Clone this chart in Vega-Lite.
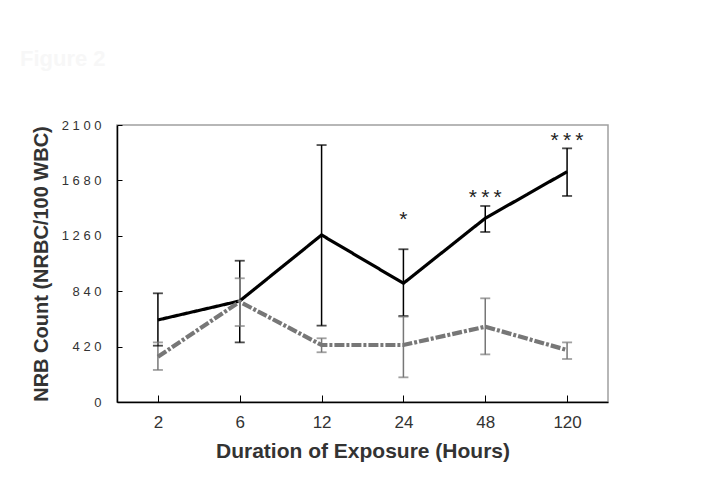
{
  "$schema": "https://vega.github.io/schema/vega-lite/v6.json",
  "width": 491,
  "height": 277,
  "autosize": {"type": "none"},
  "padding": {"left": 117, "top": 125, "right": 111, "bottom": 91},
  "background": "white",
  "title": {"text": "Figure 2", "anchor": "start", "frame": "group", "dx": -97, "offset": 48, "fontSize": 22, "color": "#f7f7f7", "font": "Liberation Sans", "fontWeight": "bold"},
  "config": {
    "font": "Liberation Sans",
    "view": {"stroke": "#a0a0a0", "strokeWidth": 1.5},
    "axisY": {"domainColor": "#000000", "domainWidth": 1.5, "tickColor": "#000000", "tickSize": -5, "tickWidth": 1, "labelFontSize": 13, "labelColor": "#333333", "labelPadding": 21, "titleFontSize": 20, "titleFontWeight": "bold", "titleColor": "#333333", "titlePadding": 10, "grid": false},
    "axisX": {"domainColor": "#000000", "domainWidth": 1.5, "tickColor": "#000000", "tickSize": -7, "tickWidth": 1, "labelFontSize": 17, "labelColor": "#333333", "labelAngle": 0, "labelPadding": 19, "titleFontSize": 21, "titleFontWeight": "bold", "titleColor": "#333333", "titlePadding": 10, "grid": false}
  },
  "datasets": {
    "means": [
      {"hours": "2", "group": "Exposed", "mean": 622, "lower": 427, "upper": 824},
      {"hours": "6", "group": "Exposed", "mean": 766, "lower": 452, "upper": 1071},
      {"hours": "12", "group": "Exposed", "mean": 1266, "lower": 579, "upper": 1948},
      {"hours": "24", "group": "Exposed", "mean": 900, "lower": 652, "upper": 1158},
      {"hours": "48", "group": "Exposed", "mean": 1393, "lower": 1289, "upper": 1486},
      {"hours": "120", "group": "Exposed", "mean": 1746, "lower": 1562, "upper": 1923},
      {"hours": "2", "group": "Control", "mean": 343, "lower": 243, "upper": 452},
      {"hours": "6", "group": "Control", "mean": 760, "lower": 576, "upper": 938},
      {"hours": "12", "group": "Control", "mean": 432, "lower": 377, "upper": 483},
      {"hours": "24", "group": "Control", "mean": 432, "lower": 187, "upper": 647},
      {"hours": "48", "group": "Control", "mean": 571, "lower": 361, "upper": 786},
      {"hours": "120", "group": "Control", "mean": 394, "lower": 326, "upper": 452}
    ],
    "stars": [
      {"hours": "24", "pos": 1380, "label": "*"},
      {"hours": "48", "pos": 1547, "label": "*\u2009*\u2009*"},
      {"hours": "120", "pos": 1979, "label": "*\u2009*\u2009*"}
    ]
  },
  "encoding": {
    "x": {"field": "hours", "type": "ordinal", "title": "Duration of Exposure (Hours)", "scale": {"type": "point", "padding": 0.5, "domain": ["2", "6", "12", "24", "48", "120"]}}
  },
  "layer": [
    {
      "data": {"name": "means"},
      "mark": {"type": "rule", "strokeWidth": 1.5},
      "encoding": {
        "y": {"field": "lower", "type": "quantitative", "title": "NRB Count (NRBC/100 WBC)", "scale": {"domain": [0, 2100], "nice": false}, "axis": {"values": [0, 420, 840, 1260, 1680, 2100], "labelExpr": "datum.value == 0 ? '0' : datum.value == 420 ? '4 2 0' : datum.value == 840 ? '8 4 0' : datum.value == 1260 ? '1 2 6 0' : datum.value == 1680 ? '1 6 8 0' : '2 1 0 0'"}},
        "y2": {"field": "upper"},
        "color": {"field": "group", "type": "nominal", "scale": {"domain": ["Exposed", "Control"], "range": ["#000000", "#777777"]}, "legend": null}
      }
    },
    {
      "data": {"name": "means"},
      "mark": {"type": "tick", "size": 10, "thickness": 1.8},
      "encoding": {
        "y": {"field": "lower", "type": "quantitative", "title": "NRB Count (NRBC/100 WBC)"},
        "color": {"field": "group", "type": "nominal", "legend": null}
      }
    },
    {
      "data": {"name": "means"},
      "mark": {"type": "tick", "size": 10, "thickness": 1.8},
      "encoding": {
        "y": {"field": "upper", "type": "quantitative", "title": "NRB Count (NRBC/100 WBC)"},
        "color": {"field": "group", "type": "nominal", "legend": null}
      }
    },
    {
      "data": {"name": "means"},
      "mark": {"type": "line"},
      "encoding": {
        "y": {"field": "mean", "type": "quantitative", "title": "NRB Count (NRBC/100 WBC)"},
        "color": {"field": "group", "type": "nominal", "legend": null},
        "strokeDash": {"field": "group", "type": "nominal", "scale": {"domain": ["Exposed", "Control"], "range": [[1, 0], [10, 2, 3, 2]]}, "legend": null},
        "strokeWidth": {"field": "group", "type": "nominal", "scale": {"domain": ["Exposed", "Control"], "range": [3.2, 4.2]}, "legend": null}
      }
    },
    {
      "data": {"name": "stars"},
      "mark": {"type": "text", "fontSize": 21, "color": "#222222", "baseline": "middle", "align": "center"},
      "encoding": {
        "y": {"field": "pos", "type": "quantitative", "title": "NRB Count (NRBC/100 WBC)"},
        "text": {"field": "label"}
      }
    }
  ]
}
